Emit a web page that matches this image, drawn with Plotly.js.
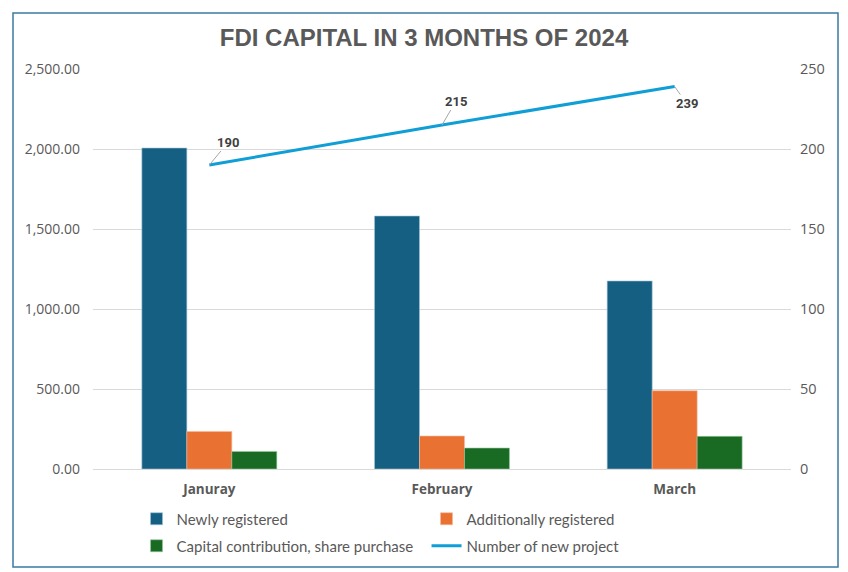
<!DOCTYPE html>
<html>
<head>
<meta charset="utf-8">
<script src="https://cdn.plot.ly/plotly-3.0.1.min.js"></script>
<style>html,body{margin:0;padding:0;background:#fff;}#chart{width:848px;height:572px;}</style>
</head>
<body>
<div id="chart"></div>
<script>
const months = ["Januray", "February", "March"];
const newlyRegistered = [2006, 1581, 1175];
const additionallyRegistered = [235, 206, 489];
const capitalContribution = [110, 131, 204];
const newProjects = [190, 215, 239];
const projectLabelOffsets = [[19, -23], [14, -24], [12, 17]];

const gray = "#595959";
const legendFont = {family: "Lato, 'Open Sans', sans-serif", size: 15, color: gray};
const traces = [
  {type: "bar", name: "Newly registered", x: months, y: newlyRegistered, legend: "legend",
   marker: {color: "#156082", line: {color: "#9fc3d6", width: 0.6}}},
  {type: "bar", name: "Additionally registered", x: months, y: additionallyRegistered, legend: "legend",
   marker: {color: "#E97132", line: {color: "#f5b89a", width: 0.6}}},
  {type: "bar", name: "Capital contribution, share purchase", x: months, y: capitalContribution, legend: "legend2",
   marker: {color: "#196B24", line: {color: "#9cc7a2", width: 0.6}}},
  {type: "scatter", mode: "lines", name: "Number of new project", x: months, y: newProjects,
   yaxis: "y2", legend: "legend2", line: {color: "#0F9ED5", width: 3}}
];

const annotations = newProjects.map((v, i) => ({
  x: months[i], y: v, xref: "x", yref: "y2",
  text: "<b>" + v + "</b>", showarrow: true, arrowhead: 0, arrowwidth: 1,
  arrowcolor: "#a6a6a6", ax: projectLabelOffsets[i][0], ay: projectLabelOffsets[i][1],
  font: {family: "Roboto, Arial, sans-serif", size: 13, color: "#404040"}
}));

const legendBase = {orientation: "h", xref: "container", yref: "container", x: 0.161,
  xanchor: "left", yanchor: "middle", entrywidth: 245, entrywidthmode: "pixels",
  traceorder: "normal", font: legendFont, bgcolor: "rgba(0,0,0,0)"};

const layout = {
  width: 848, height: 572,
  margin: {l: 93, r: 57, t: 69, b: 103},
  paper_bgcolor: "#ffffff", plot_bgcolor: "#ffffff",
  title: {text: "<b>FDI CAPITAL IN 3 MONTHS OF 2024</b>", x: 0.5, xanchor: "center",
          y: 0.935, yanchor: "middle", yref: "container",
          font: {family: "'Liberation Sans', Arial, sans-serif", size: 24, color: gray}},
  barmode: "group", bargap: 0.42, bargroupgap: 0,
  xaxis: {showgrid: false, zeroline: false, showline: false, ticks: "",
          tickfont: {family: "'Open Sans', sans-serif", size: 13.5, color: gray, weight: "bold"},
          ticklabelstandoff: 10},
  yaxis: {range: [0, 2500], dtick: 500, tickformat: ",.2f", showgrid: true, gridcolor: "#d9d9d9",
          gridwidth: 1, zeroline: true, zerolinecolor: "#d9d9d9", showline: false,
          tickfont: {family: "'Open Sans', sans-serif", size: 14, color: gray},
          ticklabelstandoff: 12},
  yaxis2: {range: [0, 250], dtick: 50, overlaying: "y", side: "right", showgrid: false,
           zeroline: false, showline: false,
           tickfont: {family: "'Open Sans', sans-serif", size: 14.5, color: gray},
           ticklabelstandoff: 8},
  showlegend: true,
  legend: Object.assign({}, legendBase, {y: 1 - 519 / 572}),
  legend2: Object.assign({}, legendBase, {y: 1 - 546 / 572}),
  annotations: annotations,
  shapes: [{type: "rect", xref: "paper", yref: "paper",
            x0: (13 - 93) / 698, x1: (838 - 93) / 698,
            y0: (469 - 567) / 400, y1: (469 - 13) / 400,
            line: {color: "#3D7AA3", width: 1.5}, fillcolor: "rgba(0,0,0,0)", layer: "above"}]
};

Plotly.newPlot("chart", traces, layout, {displayModeBar: false, staticPlot: true});
</script>
</body>
</html>
